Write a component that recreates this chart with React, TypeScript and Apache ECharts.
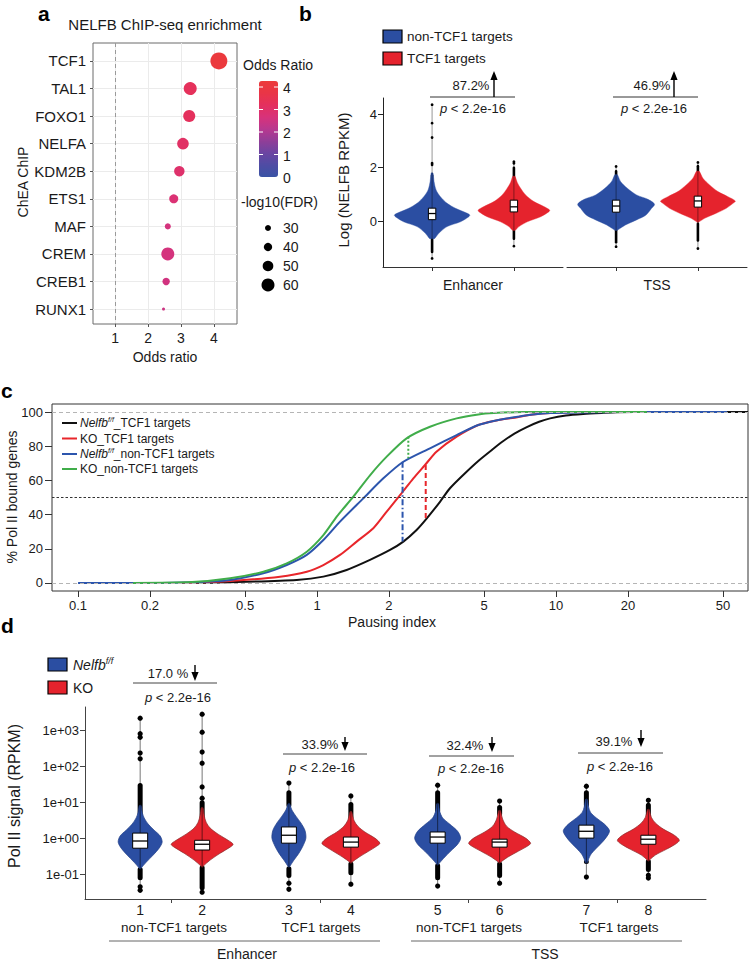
import React, { useEffect, useRef } from 'react';
import * as echarts from 'echarts';

// ================= Panel a : NELFB ChIP-seq enrichment =================
const aFactors = ['TCF1', 'TAL1', 'FOXO1', 'NELFA', 'KDM2B', 'ETS1', 'MAF', 'CREM', 'CREB1', 'RUNX1'];
const aOddsRatio = [4.15, 3.28, 3.25, 3.06, 2.95, 2.78, 2.6, 2.6, 2.55, 2.47];
const aNegLog10FDR = [77, 60, 56, 54, 49, 43, 30, 60, 36, 17];
const aOddsTicks = [1, 2, 3, 4];
const aColorbarTicks = [0, 1, 2, 3, 4];
const aSizeLegend = [30, 40, 50, 60];
const aReferenceOdds = 1;

// ================= Panel b : NELFB occupancy =================
const bRegions = ['Enhancer', 'TSS'];
const bGroups = ['non-TCF1 targets', 'TCF1 targets'];
const bYTicks = [0, 2, 4];
// density outline per violin: [log RPKM, half width (x-axis units)]; order Enh-non, Enh-TCF1, TSS-non, TSS-TCF1
const bProfiles = [
  [[-0.66, 0.01], [-0.65, 0.033], [-0.46, 0.082], [-0.21, 0.184], [-0.03, 0.347], [0.16, 0.449], [0.22, 0.461], [0.29, 0.429], [0.475, 0.286], [0.66, 0.184], [0.91, 0.102], [1.16, 0.049], [1.475, 0.024], [1.79, 0.012], [1.8, 0.004]],
  [[-0.36, 0.004], [-0.34, 0.02], [-0.21, 0.061], [-0.03, 0.163], [0.16, 0.327], [0.35, 0.429], [0.41, 0.437], [0.54, 0.367], [0.725, 0.245], [0.975, 0.143], [1.225, 0.082], [1.44, 0.041], [1.66, 0.016], [1.68, 0.004]],
  [[-0.36, 0.004], [-0.34, 0.018], [-0.15, 0.114], [0.04, 0.25], [0.225, 0.366], [0.475, 0.434], [0.63, 0.47], [0.81, 0.39], [0.975, 0.25], [1.225, 0.137], [1.475, 0.055], [1.725, 0.018], [1.74, 0.004]],
  [[-0.05, 0.004], [-0.03, 0.016], [0.1, 0.082], [0.29, 0.224], [0.475, 0.347], [0.66, 0.429], [0.75, 0.457], [0.91, 0.367], [1.1, 0.245], [1.35, 0.143], [1.6, 0.061], [1.85, 0.02], [1.87, 0.004]],
];
const bBoxes = [[0.05, 0.28, 0.48], [0.34, 0.53, 0.78], [0.33, 0.56, 0.78], [0.52, 0.75, 0.93]];
const bDenseLow = [[-1.21, -0.6], [-0.71, -0.3], [-0.84, -0.3], [-0.78, -0.05]];
const bDenseHigh = [[1.1, 1.75], [1.4, 2.04], [1.4, 1.91], [1.6, 2.1]];
const bOutliers = [[2.1, 2.16, 3.12, 3.66, 4.35, -1.4], [2.16, 2.22, -0.94], [2.04, -0.96], [2.19, -1.03]];
const bChange = ['87.2%', '46.9%'];
const bPValue = ['p < 2.2e-16', 'p < 2.2e-16'];

// ================= Panel c : Pausing index CDF =================
const cSeriesNames = ['Nelfb f/f_TCF1 targets', 'KO_TCF1 targets', 'Nelfb f/f_non-TCF1 targets', 'KO_non-TCF1 targets'];
const cNelfbTCF1 = [[0.3, 0], [0.433, 0.4], [0.822, 1.8], [1.063, 3.7], [1.33, 7.6], [1.666, 13.5], [2.02, 19.3], [2.297, 24.2], [2.61, 31], [2.88, 37.8], [3.27, 47.5], [3.6, 55.4], [4.09, 63.2], [4.73, 71.4], [5.5, 78.8], [6.0, 82.9], [6.7, 87.4], [7.55, 91.2], [8.5, 94.3], [9.45, 96.3], [11, 98], [13, 98.9], [15.5, 99.5], [18, 99.9], [25, 100], [63.6, 100]];
const cKoTCF1 = [[0.27, 0], [0.433, 1.2], [0.7, 3.7], [0.906, 6.6], [1.063, 10.5], [1.248, 16.4], [1.465, 24.2], [1.72, 32], [1.957, 41.7], [2.26, 52.5], [2.53, 61.2], [2.83, 69], [3.16, 76.8], [3.84, 85.6], [4.73, 92.4], [5.5, 94.8], [6.9, 97], [8, 98.5], [9.45, 99.4], [13, 100], [30, 100]];
const cNelfbNon = [[0.1, 0], [0.2, 0], [0.3, 0.4], [0.433, 1.8], [0.596, 5.7], [0.747, 10.5], [0.906, 16.4], [1.063, 25.1], [1.248, 35.9], [1.562, 49.5], [1.895, 61.2], [2.297, 70.9], [2.97, 78.8], [3.84, 86.5], [4.73, 92.4], [5.8, 95.5], [6.9, 97.2], [8, 98.5], [9.45, 99.4], [13, 99.8], [18, 100], [52, 100]];
const cKoNon = [[0.17, 0], [0.3, 0.5], [0.433, 2.7], [0.596, 6.6], [0.747, 11.5], [0.906, 18.3], [1.063, 28], [1.209, 38.8], [1.419, 50.5], [1.666, 63], [1.957, 73.9], [2.37, 84.6], [2.97, 91.4], [3.84, 96.3], [4.73, 98.6], [5.5, 99.4], [7.3, 100], [24, 100]];
const cXTicks = [0.1, 0.2, 0.5, 1, 2, 5, 10, 20, 50];
const cYTicks = [0, 20, 40, 60, 80, 100];
const cMedian = 50;
// vertical gap markers: [pausing index, upper %, lower %]
const cGapKoNon = [2.41, 85.6, 72.9];
const cGapNelfbNon = [2.28, 70.9, 24.2];
const cGapKoTCF1 = [2.85, 69, 37.8];

// ================= Panel d : Pol II signal =================
const dNumbers = ['1', '2', '3', '4', '5', '6', '7', '8'];
const dGroups = ['non-TCF1 targets', 'TCF1 targets', 'non-TCF1 targets', 'TCF1 targets'];
const dRegions = ['Enhancer', 'TSS'];
const dGenotypes = ['Nelfb f/f', 'KO'];
const dLogTicks = [-1, 0, 1, 2, 3];
// density outline per violin: [log10 RPKM, half width (x-axis units)]
const dProfiles = [
  [[-0.86, 0.004], [-0.83, 0.016], [-0.67, 0.097], [-0.47, 0.21], [-0.28, 0.306], [-0.11, 0.355], [0.06, 0.323], [0.22, 0.226], [0.39, 0.129], [0.56, 0.065], [0.72, 0.032], [0.89, 0.016], [0.92, 0.004]],
  [[-0.81, 0.004], [-0.78, 0.016], [-0.61, 0.129], [-0.42, 0.29], [-0.25, 0.452], [-0.17, 0.5], [-0.06, 0.419], [0.11, 0.258], [0.28, 0.129], [0.44, 0.065], [0.64, 0.032], [0.83, 0.016], [0.86, 0.004]],
  [[-0.81, 0.004], [-0.78, 0.016], [-0.61, 0.081], [-0.42, 0.161], [-0.22, 0.226], [0, 0.274], [0.22, 0.258], [0.42, 0.194], [0.61, 0.113], [0.78, 0.048], [0.94, 0.016], [0.97, 0.004]],
  [[-0.7, 0.004], [-0.67, 0.016], [-0.53, 0.129], [-0.36, 0.29], [-0.22, 0.419], [-0.14, 0.468], [0, 0.387], [0.17, 0.226], [0.33, 0.113], [0.5, 0.048], [0.72, 0.016], [0.75, 0.004]],
  [[-0.75, 0.004], [-0.72, 0.016], [-0.56, 0.097], [-0.36, 0.21], [-0.17, 0.323], [0, 0.371], [0.19, 0.323], [0.39, 0.194], [0.56, 0.081], [0.75, 0.032], [0.94, 0.016], [0.97, 0.004]],
  [[-0.7, 0.004], [-0.67, 0.016], [-0.53, 0.129], [-0.36, 0.306], [-0.22, 0.452], [-0.14, 0.5], [0, 0.419], [0.17, 0.242], [0.33, 0.113], [0.53, 0.048], [0.75, 0.016], [0.78, 0.004]],
  [[-0.7, 0.004], [-0.67, 0.016], [-0.47, 0.065], [-0.28, 0.161], [-0.08, 0.274], [0.11, 0.355], [0.22, 0.371], [0.39, 0.29], [0.56, 0.161], [0.72, 0.065], [0.89, 0.032], [1.06, 0.016], [1.09, 0.004]],
  [[-0.64, 0.004], [-0.61, 0.016], [-0.47, 0.113], [-0.31, 0.29], [-0.17, 0.435], [-0.06, 0.5], [0.08, 0.419], [0.25, 0.242], [0.42, 0.113], [0.58, 0.048], [0.78, 0.016], [0.81, 0.004]],
];
const dBoxes = [[-0.28, -0.08, 0.14], [-0.33, -0.17, -0.06], [-0.14, 0.08, 0.31], [-0.25, -0.11, 0.03], [-0.14, 0.03, 0.17], [-0.25, -0.11, -0.03], [0.0, 0.19, 0.36], [-0.17, -0.03, 0.08]];
const dDenseLow = [[-1.17, -0.8], [-1.45, -0.75], [-1.11, -0.78], [-1.03, -0.65], [-1.17, -0.7], [-1.11, -0.65], [-0.72, -0.6], [-0.94, -0.58]];
const dDenseHigh = [[0.6, 1.53], [0.45, 1.05], [0.85, 1.33], [0.5, 1.0], [0.7, 1.33], [0.6, 0.92], [0.85, 1.33], [0.55, 0.98]];
const dOutliers = [
  [2.2, 2.36, 2.8, 2.9, 3.33, -1.35, -1.45],
  [1.11, 1.42, 2.08, 2.39, 2.94, 3.44, -1.5],
  [1.53, -1.25, -1.42],
  [1.17, -1.28],
  [1.47, -1.33],
  [1.03, -1.25],
  [1.44, -1.08],
  [1.05, -1.03, -1.11],
];
const dChange = ['17.0 %', '33.9%', '32.4%', '39.1%'];
const dPValue = ['p < 2.2e-16', 'p < 2.2e-16', 'p < 2.2e-16', 'p < 2.2e-16'];

// ================= layout & style constants =================
const FONT = '"Liberation Sans", Arial, Helvetica, sans-serif';
const INK = '#1a1a1a';
const BLUE = '#2b4ea2';
const BLUE_EDGE = '#203d86';
const RED = '#e5232d';
const RED_EDGE = '#8a2a2a';
const C_COLORS = ['#111111', '#e8262b', '#2c55ad', '#40ad4a'];
const bViolinX = [1, 2];
const dViolinX = [1, 2, 3.4, 4.4, 5.8, 6.8, 8.2, 9.2];
const dPairTicks = [1.5, 3.9, 6.3, 8.7];
const log10 = (v: number) => Math.log10(v);
const bubbleSize = (v: number) => Math.max(3, 6 + (v - 30) * 0.233);
const isInt = (v: number) => Math.abs(v - Math.round(v)) < 1e-6;

function T(text: string, x: number, y: number, size: number, o: any = {}) {
  const align = o.align || 'center';
  const va = o.va || 'middle';
  return {
    type: 'text', x, y, rotation: o.rot || 0, z: 100, silent: true,
    style: {
      text, fill: o.fill || INK, fontSize: size, fontFamily: FONT,
      fontWeight: o.weight || 'normal', fontStyle: o.style || 'normal',
      align, verticalAlign: va, textAlign: align, textVerticalAlign: va,
      rich: o.rich,
    },
  };
}
function richStyles(size: number) {
  return {
    i: { fontStyle: 'italic', fontSize: size, fontFamily: FONT, fill: INK, color: INK, lineHeight: size + 3 },
    n: { fontSize: size, fontFamily: FONT, fill: INK, color: INK, lineHeight: size + 3 },
    s: { fontStyle: 'italic', fontSize: Math.round(size * 0.62), fontFamily: FONT, fill: INK, color: INK, verticalAlign: 'top', lineHeight: Math.round(size * 0.7) },
  };
}
function genoRich(label: string) {
  if (label.indexOf('Nelfb f/f') === 0) {
    const rest = label.slice('Nelfb f/f'.length);
    return '{i|Nelfb}{s|f/f}' + (rest ? '{n|' + rest + '}' : '');
  }
  return '{n|' + label + '}';
}
function pRich(label: string) {
  return '{i|' + label.slice(0, 1) + '}{n|' + label.slice(1) + '}';
}
function L(x1: number, y1: number, x2: number, y2: number, stroke = '#333', lineWidth = 1) {
  return { type: 'line', z: 100, silent: true, shape: { x1, y1, x2, y2 }, style: { stroke, lineWidth } };
}
function arrow(x: number, base: number, tip: number) {
  const dir = tip < base ? 1 : -1;
  const headBase = tip + dir * 9;
  return [
    L(x, base, x, headBase, '#000', 1.4),
    { type: 'polygon', z: 100, silent: true, shape: { points: [[x - 3.6, headBase], [x + 3.6, headBase], [x, tip]] }, style: { fill: '#000' } },
  ];
}

function violinRenderer(list: any[], cfg: any) {
  return (params: any, api: any) => {
    const v = list[params.dataIndex];
    const cx = v.x;
    const ch: any[] = [];
    [v.denseLow, v.denseHigh].forEach((r: number[]) => {
      const t = api.coord([cx, r[1]]);
      const b = api.coord([cx, r[0]]);
      ch.push({ type: 'rect', shape: { x: t[0] - cfg.dense / 2, y: Math.min(t[1], b[1]), width: cfg.dense, height: Math.abs(b[1] - t[1]), r: cfg.dense / 2 }, style: { fill: '#000' } });
    });
    v.outliers.forEach((o: number) => {
      const p = api.coord([cx, o]);
      ch.push({ type: 'circle', shape: { cx: p[0], cy: p[1], r: cfg.dot }, style: { fill: '#000' } });
    });
    const right = v.profile.map((p: number[]) => api.coord([cx + p[1], p[0]]));
    const left = v.profile.slice().reverse().map((p: number[]) => api.coord([cx - p[1], p[0]]));
    ch.push({ type: 'polygon', shape: { points: right.concat(left), smooth: 0.3 }, style: { fill: v.fill, stroke: v.edge, lineWidth: cfg.edge } });
    const ys = v.outliers.concat([v.denseLow[0], v.denseHigh[1]]);
    const top = api.coord([cx, Math.max(...ys)]);
    const bot = api.coord([cx, Math.min(...ys)]);
    ch.push({ type: 'line', shape: { x1: top[0], y1: top[1], x2: bot[0], y2: bot[1] }, style: { stroke: 'rgba(0,0,0,0.6)', lineWidth: cfg.whisker } });
    const q1 = api.coord([cx, v.box[0]]);
    const md = api.coord([cx, v.box[1]]);
    const q3 = api.coord([cx, v.box[2]]);
    const bw = cfg.boxHalf;
    ch.push({ type: 'rect', shape: { x: q1[0] - bw, y: q3[1], width: 2 * bw, height: q1[1] - q3[1] }, style: { fill: '#fff', stroke: '#000', lineWidth: 1 } });
    ch.push({ type: 'line', shape: { x1: md[0] - bw, y1: md[1], x2: md[0] + bw, y2: md[1] }, style: { stroke: '#000', lineWidth: 1.3 } });
    return { type: 'group', children: ch };
  };
}

function buildOption() {
  const lbl = (size: number, extra: any = {}) => ({ fontFamily: FONT, fontSize: size, color: INK, ...extra });
  const bSets = [0, 1].map((r) => [0, 1].map((g) => {
    const k = r * 2 + g;
    return { x: bViolinX[g], profile: bProfiles[k], box: bBoxes[k], denseLow: bDenseLow[k], denseHigh: bDenseHigh[k], outliers: bOutliers[k], fill: g === 0 ? BLUE : RED, edge: g === 0 ? BLUE : RED };
  }));
  const dSet = dProfiles.map((p, k) => ({ x: dViolinX[k], profile: p, box: dBoxes[k], denseLow: dDenseLow[k], denseHigh: dDenseHigh[k], outliers: dOutliers[k], fill: k % 2 === 0 ? BLUE : RED, edge: k % 2 === 0 ? BLUE_EDGE : RED_EDGE }));
  const bCfg = { dense: 2.6, dot: 1.4, boxHalf: 3.7, whisker: 0.7, edge: 0.4 };
  const dCfg = { dense: 5, dot: 2.6, boxHalf: 7.5, whisker: 0.9, edge: 0.7 };
  const aIdx = aFactors.map((_, i) => i);
  const cData = [cNelfbTCF1, cKoTCF1, cNelfbNon, cKoNon];

  const graphic: any[] = [];
  // panel letters
  graphic.push(T('a', 38, 13, 21, { weight: 'bold', align: 'left', fill: '#000' }));
  graphic.push(T('b', 299, 13, 21, { weight: 'bold', align: 'left', fill: '#000' }));
  graphic.push(T('c', 1, 390, 21, { weight: 'bold', align: 'left', fill: '#000' }));
  graphic.push(T('d', 1, 625, 21, { weight: 'bold', align: 'left', fill: '#000' }));

  // panel a texts and legends
  graphic.push(T('NELFB ChIP-seq enrichment', 165, 24, 15));
  graphic.push(T('ChEA ChIP', 23, 182, 14, { rot: Math.PI / 2 }));
  graphic.push(T('Odds ratio', 165, 357, 14));
  graphic.push(T('Odds Ratio', 243, 65, 14, { align: 'left' }));
  aColorbarTicks.forEach((t) => {
    const y = 177 - t * 22.5;
    graphic.push(T(String(t), 283, y + 1, 14, { align: 'left' }));
    if (t > 0 && t < 4.27) {
      graphic.push(L(259, y, 263, y, '#ffffff', 1));
      graphic.push(L(274, y, 278, y, '#ffffff', 1));
    }
  });
  graphic.push(T('-log10(FDR)', 241, 202, 14, { align: 'left' }));
  aSizeLegend.forEach((v, i) => {
    const y = 228 + i * 19;
    graphic.push({ type: 'circle', z: 100, silent: true, shape: { cx: 268, cy: y, r: bubbleSize(v) / 2 }, style: { fill: '#000' } });
    graphic.push(T(String(v), 283, y, 14, { align: 'left' }));
  });

  // panel b legend + annotations
  [BLUE, RED].forEach((c, i) => {
    const y = 30 + i * 22;
    graphic.push({ type: 'rect', z: 100, silent: true, shape: { x: 383, y, width: 19, height: 13 }, style: { fill: c, stroke: '#000', lineWidth: 1.2 } });
    graphic.push(T(bGroups[i], 407, y + 6.5, 13.5, { align: 'left' }));
  });
  const bAnn = [
    { x1: 430, x2: 515, y: 97, tx: 471, ax: 494, px: 473 },
    { x1: 613, x2: 698, y: 97, tx: 652, ax: 674, px: 654 },
  ];
  bAnn.forEach((a, i) => {
    graphic.push(L(a.x1, a.y, a.x2, a.y, '#333', 1));
    graphic.push(T(bChange[i], a.tx, a.y - 12, 13));
    graphic.push(...arrow(a.ax, a.y, 71));
    graphic.push(T(pRich(bPValue[i]), a.px, a.y + 11, 13, { rich: richStyles(13) }));
  });
  graphic.push(T('Log (NELFB RPKM)', 343, 180, 15, { rot: Math.PI / 2 }));
  graphic.push(T(bRegions[0], 473, 285, 14));
  graphic.push(T(bRegions[1], 657, 285, 14));

  // panel c legend & titles
  cSeriesNames.forEach((n, i) => {
    const y = [423, 438.5, 454, 469][i];
    graphic.push(L(62, y, 77, y, C_COLORS[i], 2));
    graphic.push(T(genoRich(n), 80, y, 12, { align: 'left', rich: richStyles(12) }));
  });
  graphic.push(T('% Pol II bound genes', 12, 497, 14, { rot: Math.PI / 2 }));
  graphic.push(T('Pausing index', 392, 622, 14));

  // panel d legend, annotations & labels
  [BLUE, RED].forEach((c, i) => {
    const y = 658 + i * 23;
    graphic.push({ type: 'rect', z: 100, silent: true, shape: { x: 48, y, width: 19, height: 13 }, style: { fill: c, stroke: '#000', lineWidth: 1.2 } });
    graphic.push(T(genoRich(dGenotypes[i]), 73, y + 6.5, 14, { align: 'left', rich: richStyles(14) }));
  });
  const dAnn = [
    { x1: 133, x2: 217, y: 683, tx: 168, ty: 673, ax: 195, at: 665, ab: 681, px: 178, py: 697 },
    { x1: 283, x2: 367, y: 754, tx: 320, ty: 744, ax: 345, at: 737, ab: 751, px: 322, py: 767 },
    { x1: 429, x2: 514, y: 756, tx: 465, ty: 745, ax: 492, at: 737, ab: 752, px: 471, py: 768 },
    { x1: 578, x2: 663, y: 753, tx: 614, ty: 741, ax: 641, at: 730, ab: 747, px: 620, py: 766 },
  ];
  dAnn.forEach((a, i) => {
    graphic.push(L(a.x1, a.y, a.x2, a.y, '#444', 1));
    graphic.push(T(dChange[i], a.tx, a.ty, 13));
    graphic.push(...arrow(a.ax, a.at, a.ab));
    graphic.push(T(pRich(dPValue[i]), a.px, a.py, 13, { rich: richStyles(13) }));
  });
  graphic.push(T('Pol II signal (RPKM)', 14, 796, 16, { rot: Math.PI / 2 }));
  [174, 321, 469, 619].forEach((x, i) => graphic.push(T(dGroups[i], x, 927, 13.5)));
  graphic.push(L(109, 941, 380, 941, '#666', 1));
  graphic.push(L(411, 941, 682, 941, '#666', 1));
  graphic.push(T(dRegions[0], 247, 953.5, 14));
  graphic.push(T(dRegions[1], 545, 953.5, 14));

  const cLogTicks = cXTicks.map(log10);

  return {
    animation: false,
    backgroundColor: '#ffffff',
    textStyle: { fontFamily: FONT },
    grid: [
      { left: 93, top: 43, width: 144, height: 281, show: true, borderColor: '#6a6a6a', borderWidth: 1, backgroundColor: 'transparent' },
      { left: 383, top: 98, width: 180, height: 169 },
      { left: 567, top: 98, width: 180, height: 169 },
      { left: 52, top: 404, width: 696, height: 187, show: true, borderColor: '#333', borderWidth: 1, backgroundColor: 'transparent' },
      { left: 85, top: 707, width: 621, height: 192 },
    ],
    xAxis: [
      {
        gridIndex: 0, type: 'value', min: 0.33, max: 4.7, splitNumber: 5,
        axisLine: { show: false, onZero: false },
        axisTick: { show: true, length: 3, lineStyle: { color: '#555' }, customValues: aOddsTicks },
        axisLabel: lbl(14, { margin: 7, customValues: aOddsTicks, formatter: (v: number) => (isInt(v) ? String(v) : '') }),
        splitLine: { show: true, lineStyle: { color: '#ebebeb', width: 1 } },
      },
      {
        gridIndex: 1, type: 'value', min: 0.4, max: 2.6,
        axisLine: { show: true, onZero: false, lineStyle: { color: '#333', width: 1 } },
        axisTick: { show: true, length: 4, customValues: bViolinX, lineStyle: { color: '#333' } },
        axisLabel: { show: false }, splitLine: { show: false },
      },
      {
        gridIndex: 2, type: 'value', min: 0.4, max: 2.6,
        axisLine: { show: true, onZero: false, lineStyle: { color: '#333', width: 1 } },
        axisTick: { show: true, length: 4, customValues: bViolinX, lineStyle: { color: '#333' } },
        axisLabel: { show: false }, splitLine: { show: false },
      },
      {
        gridIndex: 3, type: 'value', min: log10(0.0778), max: log10(63.6),
        axisLine: { show: false, onZero: false },
        axisTick: { show: true, length: 6, customValues: cLogTicks, lineStyle: { color: '#333' } },
        axisLabel: lbl(13, {
          margin: 8, customValues: cLogTicks,
          formatter: (v: number) => {
            const t = cXTicks.find((x) => Math.abs(log10(x) - v) < 1e-6);
            return t === undefined ? '' : String(t);
          },
        }),
        splitLine: { show: false },
      },
      {
        gridIndex: 4, type: 'value', min: 0.11, max: 10.13,
        axisLine: { show: true, onZero: false, lineStyle: { color: '#444', width: 1 } },
        axisTick: { show: true, length: 4, customValues: dPairTicks, lineStyle: { color: '#444' } },
        axisLabel: lbl(14, {
          margin: 4, customValues: dViolinX,
          formatter: (v: number) => {
            const i = dViolinX.findIndex((p) => Math.abs(p - v) < 1e-6);
            return i < 0 ? '' : dNumbers[i];
          },
        }),
        splitLine: { show: false },
      },
    ],
    yAxis: [
      {
        gridIndex: 0, type: 'value', inverse: true, min: -0.65, max: 9.54, splitNumber: 10,
        axisLine: { show: false, onZero: false },
        axisTick: { show: true, length: 3, lineStyle: { color: '#555' }, customValues: aIdx },
        axisLabel: lbl(15, { margin: 7, customValues: aIdx, formatter: (v: number) => (isInt(v) ? aFactors[Math.round(v)] || '' : '') }),
        splitLine: { show: true, lineStyle: { color: '#ebebeb', width: 1 } },
      },
      {
        gridIndex: 1, type: 'value', min: -1.72, max: 4.6, splitNumber: 3,
        axisLine: { show: true, onZero: false, lineStyle: { color: '#222', width: 1 } },
        axisTick: { show: true, length: 5, customValues: bYTicks, lineStyle: { color: '#222' } },
        axisLabel: lbl(13, { margin: 6, customValues: bYTicks, formatter: (v: number) => (bYTicks.indexOf(v) >= 0 ? String(v) : '') }),
        splitLine: { show: false },
      },
      { gridIndex: 2, type: 'value', min: -1.72, max: 4.6, show: false, axisLine: { onZero: false }, splitLine: { show: false } },
      {
        gridIndex: 3, type: 'value', min: -4.7, max: 104.7,
        axisLine: { show: false, onZero: false },
        axisTick: { show: true, length: 7, customValues: cYTicks, lineStyle: { color: '#333' } },
        axisLabel: lbl(13, { margin: 9, customValues: cYTicks, formatter: (v: number) => (cYTicks.indexOf(v) >= 0 ? String(v) : '') }),
        splitLine: { show: false },
      },
      {
        gridIndex: 4, type: 'value', min: -1.69, max: 3.64,
        axisLine: { show: true, onZero: false, lineStyle: { color: '#444', width: 1 } },
        axisTick: { show: true, length: 5, customValues: dLogTicks, lineStyle: { color: '#444' } },
        axisLabel: lbl(13, {
          margin: 6, customValues: dLogTicks,
          formatter: (v: number) => {
            if (!isInt(v)) return '';
            const e = Math.round(v);
            return '1e' + (e < 0 ? '-' : '+') + String(Math.abs(e)).padStart(2, '0');
          },
        }),
        splitLine: { show: false },
      },
    ],
    visualMap: [
      {
        type: 'continuous', seriesIndex: 0, dimension: 0, min: 0, max: 4.27,
        left: 259, top: 81, itemWidth: 19, itemHeight: 96, padding: 0,
        calculable: false, hoverLink: false, orient: 'vertical',
        inRange: { color: ['#3953a5', '#4f4ca4', '#6b45a2', '#913e98', '#b8388f', '#d8327a', '#e4305e', '#e93546', '#ec3a3a'] },
      },
    ],
    series: [
      {
        type: 'scatter', xAxisIndex: 0, yAxisIndex: 0, z: 3,
        data: aFactors.map((f, i) => ({ name: f, value: [aOddsRatio[i], i, aNegLog10FDR[i]] })),
        symbolSize: (val: number[]) => bubbleSize(val[2]),
        itemStyle: { opacity: 1 },
        markLine: {
          silent: true, symbol: 'none', label: { show: false },
          lineStyle: { type: [4, 3], color: '#9a9a9a', width: 1 },
          data: [{ xAxis: aReferenceOdds }],
        },
      },
      {
        type: 'custom', xAxisIndex: 1, yAxisIndex: 1, z: 2,
        renderItem: violinRenderer(bSets[0], bCfg),
        data: bSets[0].map((v) => [v.x, v.box[1]]),
      },
      {
        type: 'custom', xAxisIndex: 2, yAxisIndex: 2, z: 2,
        renderItem: violinRenderer(bSets[1], bCfg),
        data: bSets[1].map((v) => [v.x, v.box[1]]),
      },
      ...cData.map((d, i) => ({
        type: 'line', name: cSeriesNames[i], xAxisIndex: 3, yAxisIndex: 3, z: 2 + i * 0.1,
        showSymbol: false, symbol: 'none', smooth: 0.25,
        lineStyle: { color: C_COLORS[i], width: 2 },
        data: d.map((p) => [log10(p[0]), p[1]]),
        markLine: i === 3 ? {
          silent: true, symbol: 'none', label: { show: false },
          data: [
            { yAxis: 100, lineStyle: { color: '#b5b5b5', type: [4, 3], width: 1 } },
            { yAxis: 0, lineStyle: { color: '#b5b5b5', type: [4, 3], width: 1 } },
            { yAxis: cMedian, lineStyle: { color: '#333', type: [2.5, 2], width: 1 } },
          ],
        } : undefined,
      })),
      {
        type: 'line', xAxisIndex: 3, yAxisIndex: 3, z: 3, showSymbol: false, symbol: 'none',
        lineStyle: { color: C_COLORS[3], width: 2, type: [2, 2] },
        data: [[log10(cGapKoNon[0]), cGapKoNon[1]], [log10(cGapKoNon[0]), cGapKoNon[2]]],
      },
      {
        type: 'line', xAxisIndex: 3, yAxisIndex: 3, z: 3, showSymbol: false, symbol: 'none',
        lineStyle: { color: C_COLORS[2], width: 2, type: [6, 2.5, 1.5, 2.5] },
        data: [[log10(cGapNelfbNon[0]), cGapNelfbNon[1]], [log10(cGapNelfbNon[0]), cGapNelfbNon[2]]],
      },
      {
        type: 'line', xAxisIndex: 3, yAxisIndex: 3, z: 3, showSymbol: false, symbol: 'none',
        lineStyle: { color: C_COLORS[1], width: 2, type: [5, 3] },
        data: [[log10(cGapKoTCF1[0]), cGapKoTCF1[1]], [log10(cGapKoTCF1[0]), cGapKoTCF1[2]]],
      },
      {
        type: 'custom', xAxisIndex: 4, yAxisIndex: 4, z: 2,
        renderItem: violinRenderer(dSet, dCfg),
        data: dSet.map((v) => [v.x, v.box[1]]),
      },
    ],
    graphic: { elements: graphic },
  };
}

export default function App() {
  const ref = useRef<HTMLDivElement>(null);
  useEffect(() => {
    document.body.style.margin = '0';
    const chart = echarts.init(ref.current as HTMLDivElement, null, { renderer: 'svg' });
    chart.setOption(buildOption() as any);
    return () => chart.dispose();
  }, []);
  return <div ref={ref} style={{ position: 'absolute', left: 0, top: 0, width: 749, height: 962, background: '#fff' }} />;
}
